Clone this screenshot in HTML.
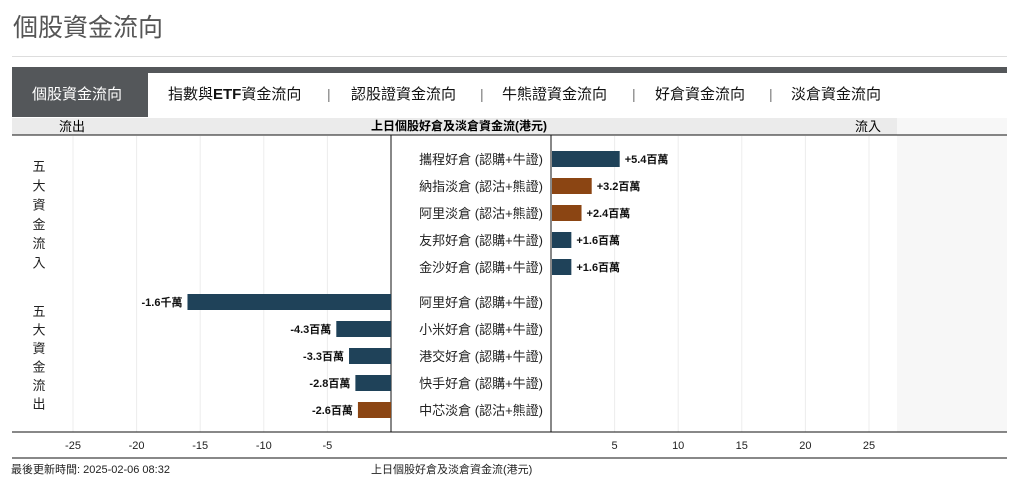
<!DOCTYPE html>
<html><head><meta charset="utf-8"><style>
body{margin:0;width:1021px;height:483px;background:#fff;font-family:"Liberation Sans","Noto Sans CJK TC",sans-serif;position:relative;overflow:hidden}
.a{position:absolute;white-space:nowrap}
.tab{position:absolute;top:86px;font-size:15px;color:#111;line-height:18px}
.sep{position:absolute;top:86px;font-size:14px;color:#777}
</style></head><body>
<div class="a" style="left:13px;top:8px;font-size:25px;color:#555">個股資金流向</div>
<div class="a" style="left:12px;top:56px;width:995px;height:1px;background:#ddd"></div>
<div class="a" style="left:12px;top:67px;width:995px;height:6px;background:#54575a"></div>
<div class="a" style="left:12px;top:73px;width:136px;height:44px;background:#54575a"></div>
<div class="tab" style="left:32px;color:#fff">個股資金流向</div>
<div class="tab" style="left:168px">指數與<b>ETF</b>資金流向</div>
<div class="sep" style="left:327px">|</div>
<div class="tab" style="left:351px">認股證資金流向</div>
<div class="sep" style="left:480px">|</div>
<div class="tab" style="left:502px">牛熊證資金流向</div>
<div class="sep" style="left:632px">|</div>
<div class="tab" style="left:655px">好倉資金流向</div>
<div class="sep" style="left:769px">|</div>
<div class="tab" style="left:791px">淡倉資金流向</div>
<div class="a" style="left:12px;top:118px;width:885px;height:17px;background:#ebebeb"></div>
<div class="a" style="left:897px;top:118px;width:110px;height:314px;background:#f7f7f7"></div>
<div class="a" style="left:59px;top:118px;font-size:13px;line-height:17px">流出</div>
<div class="a" style="left:371px;top:118px;font-size:12px;font-weight:bold;line-height:17px">上日個股好倉及淡倉資金流(港元)</div>
<div class="a" style="left:855px;top:118px;font-size:13px;line-height:17px">流入</div>
<svg class="a" style="left:0;top:0" width="1021" height="483" id="svg"></svg>
<div class="a" style="left:11px;top:461px;font-size:11px;color:#222">最後更新時間: 2025-02-06 08:32</div>
<div class="a" style="left:371px;top:461px;font-size:11px;color:#222">上日個股好倉及淡倉資金流(港元)</div>
<script>
const inNames=["攜程好倉 (認購+牛證)","納指淡倉 (認沽+熊證)","阿里淡倉 (認沽+熊證)","友邦好倉 (認購+牛證)","金沙好倉 (認購+牛證)"];
const inValues=[5.4,3.2,2.4,1.6,1.6];
const inLabels=["+5.4百萬","+3.2百萬","+2.4百萬","+1.6百萬","+1.6百萬"];
const inTypes=["bull","bear","bear","bull","bull"];
const outNames=["阿里好倉 (認購+牛證)","小米好倉 (認購+牛證)","港交好倉 (認購+牛證)","快手好倉 (認購+牛證)","中芯淡倉 (認沽+熊證)"];
const outValues=[-16,-4.3,-3.3,-2.8,-2.6];
const outLabels=["-1.6千萬","-4.3百萬","-3.3百萬","-2.8百萬","-2.6百萬"];
const outTypes=["bull","bull","bull","bull","bear"];
const negTicks=[-25,-20,-15,-10,-5];
const posTicks=[5,10,15,20,25];
const U=12.72;
const xNeg=v=>391+v*U, xPos=v=>551+v*U;
const inY=i=>159+i*27, outY=i=>302+i*27;
const col=t=>t==="bull"?"#1f4259":"#8b4513";
const svg=document.getElementById('svg');
function mk(tag,attrs,txt){const e=document.createElementNS('http://www.w3.org/2000/svg',tag);for(const k in attrs)e.setAttribute(k,attrs[k]);if(txt!==undefined)e.textContent=txt;svg.appendChild(e);return e;}
negTicks.forEach(t=>{const g=mk('line',{x1:xNeg(t),x2:xNeg(t),y1:136,y2:432,stroke:'#ececec'});


const l=mk('text',{x:xNeg(t),y:449,'font-size':11,'text-anchor':'middle',fill:'#222'},String(t));

});
posTicks.forEach(t=>{const g=mk('line',{x1:xPos(t),x2:xPos(t),y1:136,y2:432,stroke:'#ececec'});


const l=mk('text',{x:xPos(t),y:449,'font-size':11,'text-anchor':'middle',fill:'#222'},String(t));

});
[[12,135,1007,135],[12,432,1007,432],[12,458,1007,458],[391,135,391,432],[551,135,551,432]].forEach(a=>{const l=mk('line',{x1:a[0],y1:a[1],x2:a[2],y2:a[3],stroke:'#111'});

});
inValues.forEach((v,i)=>{const y=inY(i);
const b=mk('rect',{x:xPos(0)+1,y:y-8,width:Math.max(0,xPos(v)-xPos(0)-1),height:16,fill:col(inTypes[i])});


const n=mk('text',{x:543,y:y+5,'font-size':13,'text-anchor':'end',fill:'#222'},inNames[i]);


const t=mk('text',{x:xPos(v)+5,y:y+4,'font-size':11,'font-weight':'bold',fill:'#111'},inLabels[i]);

});
outValues.forEach((v,i)=>{const y=outY(i);
const b=mk('rect',{x:xNeg(v),y:y-8,width:Math.max(0,xNeg(0)-xNeg(v)),height:16,fill:col(outTypes[i])});


const n=mk('text',{x:543,y:y+5,'font-size':13,'text-anchor':'end',fill:'#222'},outNames[i]);


const t=mk('text',{x:xNeg(v)-5,y:y+4,'font-size':11,'font-weight':'bold','text-anchor':'end',fill:'#111'},outLabels[i]);

});
"五大資金流入".split('').forEach((c,i)=>{const t=mk('text',{x:39,y:171+i*19.3,'font-size':13,'text-anchor':'middle',fill:'#222'},c);

});
"五大資金流出".split('').forEach((c,i)=>{const t=mk('text',{x:39,y:316+i*18.5,'font-size':13,'text-anchor':'middle',fill:'#222'},c);

});
</script>
</body></html>
